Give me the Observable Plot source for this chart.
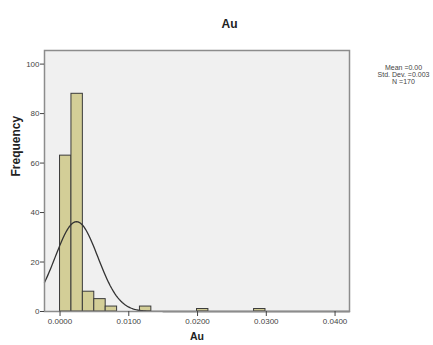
<!DOCTYPE html>
<html>
<head>
<meta charset="utf-8">
<script src="https://cdn.jsdelivr.net/npm/d3@7"></script>
<script src="https://cdn.jsdelivr.net/npm/@observablehq/plot@0.6"></script>
<style>
  html, body { margin: 0; padding: 0; background: #fff; }
</style>
</head>
<body>
<div id="chart"></div>
<script>
// ---- data ----
const binStart = [0.0000, 0.00166, 0.00332, 0.00498, 0.00664, 0.01162, 0.01992, 0.02822];
const binWidth = 0.00166;
const counts = [63, 88, 8, 5, 2, 2, 1, 1];
const xTicks = [0, 0.01, 0.02, 0.03, 0.04];
const yTicks = [0, 20, 40, 60, 80, 100];
const fitMean = 0.0024;
const fitSd = 0.0031;
const nObs = 170;
const titleText = "Au";
const xLabel = "Au";
const yLabel = "Frequency";
const legendLines = ["Mean =0.00", "Std. Dev. =0.003", "N =170"];

const bars = binStart.map((s, i) => ({x1: s, x2: s + binWidth, y: counts[i]}));

const xDomain = [-0.00226, 0.0421];
const curve = d3.range(0, 201).map(i => {
  const x = xDomain[0] + (xDomain[1] - xDomain[0]) * i / 200;
  const z = (x - fitMean) / fitSd;
  return {x, y: nObs * binWidth / (fitSd * Math.sqrt(2 * Math.PI)) * Math.exp(-z * z / 2)};
});

const chart = Plot.plot({
  width: 433,
  height: 345,
  marginLeft: 44,
  marginRight: 84,
  marginTop: 50,
  marginBottom: 34,
  style: {fontFamily: "'Liberation Sans', Arial, sans-serif", fontSize: "8px", color: "#444", background: "#fff"},
  x: {domain: xDomain, label: null},
  y: {domain: [0, 105.5], label: null},
  marks: [
    Plot.frame({fill: "#f0f0f0", stroke: null}),
    Plot.rectY(bars, {x1: "x1", x2: "x2", y: "y", fill: "#d3ce97", stroke: "#3a3a3a", strokeWidth: 1, inset: 0}),
    Plot.line(curve, {x: "x", y: "y", stroke: "#333", strokeWidth: 1.3}),
    Plot.frame({stroke: "#8c8c8c", strokeWidth: 1.5}),
    Plot.axisX({ticks: xTicks, tickFormat: d3.format(".4f"), tickSize: 5, tickPadding: 2, stroke: "#444", fill: "#444", fontSize: 8}),
    Plot.axisY({ticks: yTicks, tickFormat: d3.format("d"), tickSize: 4, tickPadding: 1, stroke: "#444", fill: "#444", fontSize: 8}),
    Plot.text([titleText], {frameAnchor: "top", dx: 32.5, dy: -31, fontWeight: "bold", fontSize: 12, fill: "#222"}),
    Plot.text([xLabel], {frameAnchor: "bottom", dy: 28, fontWeight: "bold", fontSize: 10.5, fill: "#222"}),
    Plot.text([yLabel], {frameAnchor: "left", rotate: -90, dx: -28, dy: -4.5, fontWeight: "bold", fontSize: 12, fill: "#222"}),
    Plot.text([legendLines.join("\n")], {frameAnchor: "top-right", textAnchor: "middle", lineAnchor: "middle", dx: 54, dy: 24.5, fontSize: 7, lineHeight: 0.95, fill: "#444"})
  ]
});
document.getElementById("chart").appendChild(chart);
</script>
</body>
</html>
